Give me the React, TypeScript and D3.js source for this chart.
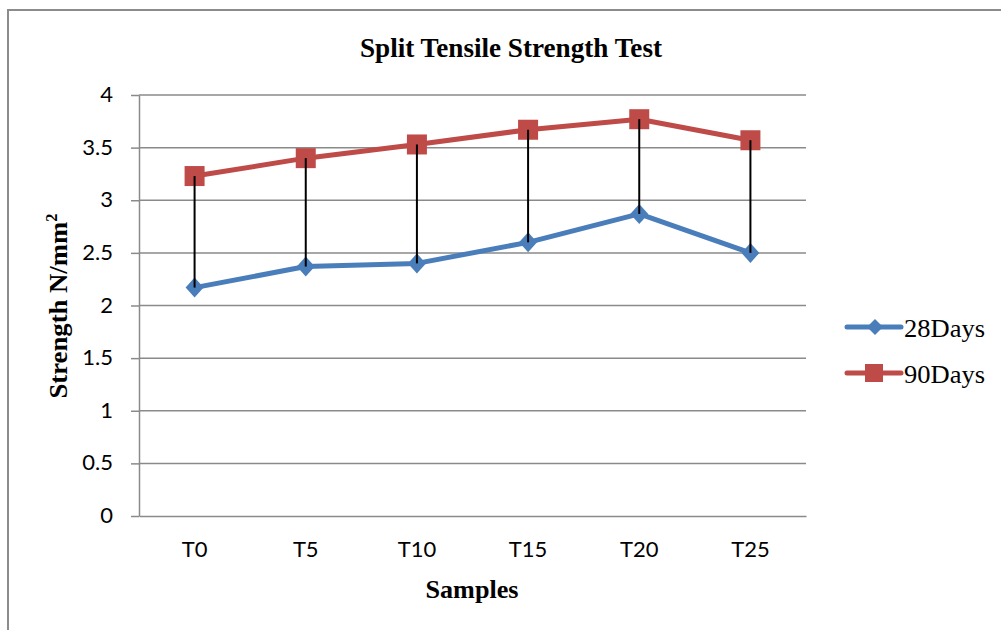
import * as d3 from "d3";
import { useEffect, useRef } from "react";

// samples on x, strength values
const samples = ["T0", "T5", "T10", "T15", "T20", "T25"];
const days28 = [2.17, 2.37, 2.4, 2.6, 2.87, 2.5];
const days90 = [3.23, 3.4, 3.53, 3.67, 3.77, 3.57];
const yTicks = [0, 0.5, 1, 1.5, 2, 2.5, 3, 3.5, 4];
const seriesNames = ["28Days", "90Days"];

const BLUE = "#4a7ebb";
const RED = "#be4b48";
const GRID = "#8a8a8a";
const SERIF = "'Liberation Serif', 'DejaVu Serif', serif";
const SANS = "Lato, 'Open Sans', sans-serif";

export default function App() {
  const width = 1001;
  const height = 630;
  const plot = { left: 139, right: 806, top: 95, bottom: 516 };

  const x = d3.scaleBand<string>().domain(samples).range([plot.left, plot.right]).padding(0);
  const y = d3.scaleLinear().domain([0, 4]).range([plot.bottom, plot.top]);
  const cx = (s: string) => (x(s) as number) + x.bandwidth() / 2;

  const line = d3
    .line<number>()
    .x((_, i) => cx(samples[i]))
    .y((d) => y(d));

  const yAxisRef = useRef<SVGGElement>(null);
  const xAxisRef = useRef<SVGGElement>(null);

  useEffect(() => {
    const ya = d3.select(yAxisRef.current!);
    ya.call(
      d3.axisLeft(y).tickValues(yTicks).tickSize(8).tickSizeOuter(0).tickFormat((d) => String(d))
    );
    ya.select(".domain").attr("stroke", GRID).attr("stroke-width", 1.5);
    ya.selectAll(".tick line").attr("stroke", GRID).attr("stroke-width", 1.5);
    ya.selectAll(".tick text")
      .attr("x", -26)
      .attr("dy", "0.3em")
      .attr("fill", "#000")
      .style("font-family", SANS)
      .style("font-size", "22px");

    const xa = d3.select(xAxisRef.current!);
    xa.call(d3.axisBottom(x).tickSize(0).tickSizeOuter(0));
    xa.select(".domain").attr("stroke", GRID).attr("stroke-width", 1.5);
    xa.selectAll(".tick text")
      .attr("dy", 0)
      .attr("y", 41)
      .attr("fill", "#000")
      .style("font-family", SANS)
      .style("font-size", "22px");
  }, []);

  const diamond = (px: number, py: number, rx: number, ry: number) =>
    `M${px},${py - ry}L${px + rx},${py}L${px},${py + ry}L${px - rx},${py}Z`;

  return (
    <svg
      width={width}
      height={height}
      style={{ position: "absolute", left: 0, top: 0, background: "#fff" }}
    >
      <rect x={8} y={10} width={1100} height={700} fill="#fff" stroke="#8c8c8c" strokeWidth={2} />

      <text
        x={511}
        y={57}
        textAnchor="middle"
        fontFamily={SERIF}
        fontWeight="bold"
        fontSize={27}
        textLength={302}
        lengthAdjust="spacingAndGlyphs"
      >
        Split Tensile Strength Test
      </text>

      {/* gridlines */}
      <g>
        {yTicks
          .filter((t) => t > 0)
          .map((t) => (
            <line key={t} x1={plot.left} x2={plot.right} y1={y(t)} y2={y(t)} stroke={GRID} strokeWidth={1.5} />
          ))}
      </g>

      <g ref={xAxisRef} transform={`translate(0,${plot.bottom})`} />
      <g ref={yAxisRef} transform={`translate(${plot.left},0)`} />

      <path d={line(days28) ?? ""} fill="none" stroke={BLUE} strokeWidth={5} strokeLinejoin="round" />
      <path d={line(days90) ?? ""} fill="none" stroke={RED} strokeWidth={5} strokeLinejoin="round" />

      {samples.map((s, i) => (
        <path key={"d" + s} d={diamond(cx(s), y(days28[i]), 9, 10)} fill={BLUE} />
      ))}
      {samples.map((s, i) => (
        <rect key={"s" + s} x={cx(s) - 10} y={y(days90[i]) - 10} width={20} height={20} fill={RED} />
      ))}

      {/* high-low lines on top of the markers */}
      <g>
        {samples.map((s, i) => (
          <line key={"hl" + s} x1={cx(s)} x2={cx(s)} y1={y(days90[i])} y2={y(days28[i])} stroke="#000" strokeWidth={2} />
        ))}
      </g>

      {/* legend */}
      {seriesNames.map((name, i) => {
        const ly = 327 + i * 46;
        const color = i === 0 ? BLUE : RED;
        return (
          <g key={name}>
            <line x1={847} x2={901} y1={ly} y2={ly} stroke={color} strokeWidth={5} strokeLinecap="round" />
            {i === 0 ? (
              <path d={diamond(875, ly, 8, 8)} fill={color} />
            ) : (
              <rect x={865} y={ly - 9} width={18} height={18} fill={color} />
            )}
            <text
              x={904}
              y={ly + 10}
              fontFamily={SERIF}
              fontSize={25}
              textLength={81}
              lengthAdjust="spacingAndGlyphs"
            >
              {name}
            </text>
          </g>
        );
      })}

      <text
        x={472}
        y={598}
        textAnchor="middle"
        fontFamily={SERIF}
        fontWeight="bold"
        fontSize={26}
        textLength={93}
        lengthAdjust="spacingAndGlyphs"
      >
        Samples
      </text>

      <text
        transform="translate(67,306) rotate(-90)"
        textAnchor="middle"
        fontFamily={SERIF}
        fontWeight="bold"
        fontSize={26}
        textLength={185}
        lengthAdjust="spacingAndGlyphs"
      >
        Strength N/mm
        <tspan dy={-10} fontSize={16}>
          2
        </tspan>
      </text>
    </svg>
  );
}
